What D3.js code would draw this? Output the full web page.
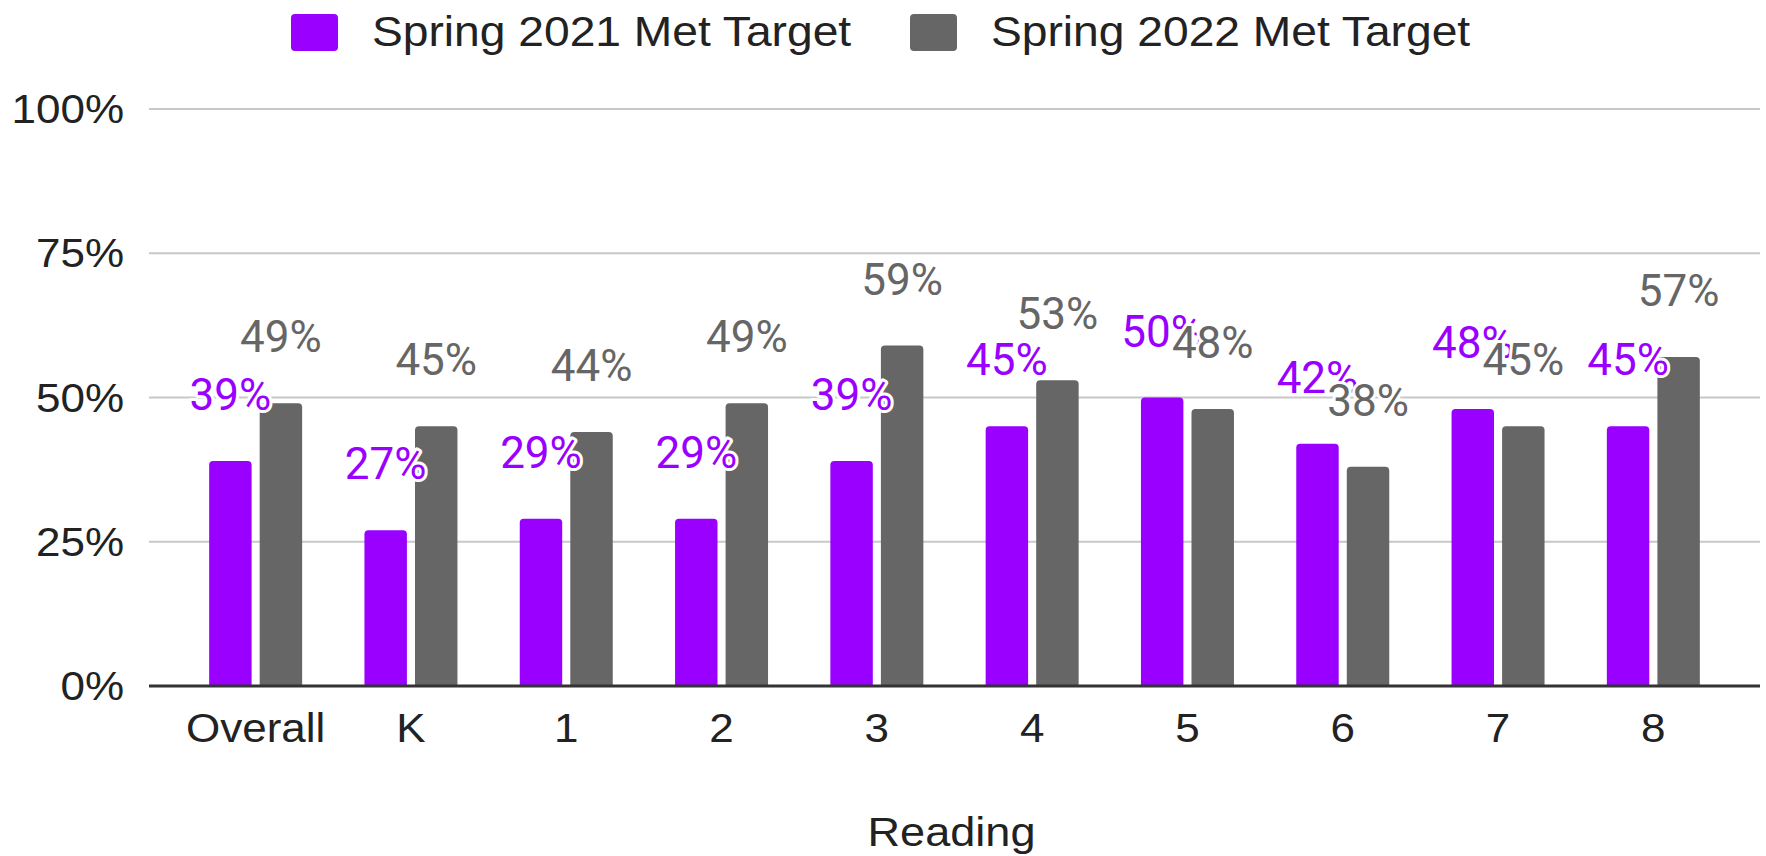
<!DOCTYPE html>
<html>
<head>
<meta charset="utf-8">
<script src="https://cdn.jsdelivr.net/npm/d3@7/dist/d3.min.js"></script>
<style>
  html, body { margin: 0; padding: 0; background: #fff; }
  svg { display: block; }
</style>
</head>
<body>
<script>
const categories = ["Overall", "K", "1", "2", "3", "4", "5", "6", "7", "8"];
const spring2021 = [39, 27, 29, 29, 39, 45, 50, 42, 48, 45];
const spring2022 = [49, 45, 44, 49, 59, 53, 48, 38, 45, 57];
const seriesNames = ["Spring 2021 Met Target", "Spring 2022 Met Target"];
const seriesColors = ["#9900ff", "#666666"];
const yTicks = [0, 25, 50, 75, 100];
const xTitle = "Reading";

const W = 1766, H = 856;
const svg = d3.select("body").append("svg").attr("width", W).attr("height", H);

const gridX0 = 149, gridX1 = 1760;
const y = d3.scaleLinear().domain([0, 100]).range([686, 109]);
const x0 = d3.scaleBand().domain(categories).range([178, 1731]).paddingInner(0).paddingOuter(0);
const groupW = 93;
const x1 = d3.scaleBand().domain(seriesNames).range([0, groupW]).paddingInner(0.16);

const axisFont = "'Liberation Sans', Arial, sans-serif";
const labelFont = "Roboto, 'Noto Sans', sans-serif";
const sx = 1.1;

function stretchedText(g, tx, ty, txt, size, anchor, color) {
  return g.append("text")
    .attr("transform", `translate(${tx},${ty}) scale(${sx},1)`)
    .attr("text-anchor", anchor)
    .attr("font-family", axisFont)
    .attr("font-size", size)
    .attr("fill", color)
    .text(txt);
}

// gridlines
const grid = svg.append("g");
grid.selectAll("line").data(yTicks.filter(t => t !== 0)).join("line")
  .attr("x1", gridX0).attr("x2", gridX1)
  .attr("y1", d => y(d)).attr("y2", d => y(d))
  .attr("stroke", "#c8c8c8").attr("stroke-width", 2);

// y tick labels
const yl = svg.append("g");
yTicks.forEach(t => stretchedText(yl, 124, y(t) + 14, d3.format(".0%")(t / 100), 40, "end", "#222"));

// bars
function topRounded(xp, yp, w, h, r) {
  r = Math.min(r, h, w / 2);
  return `M${xp},${yp + h}V${yp + r}Q${xp},${yp} ${xp + r},${yp}H${xp + w - r}Q${xp + w},${yp} ${xp + w},${yp + r}V${yp + h}Z`;
}
const seriesData = [spring2021, spring2022];
const barsG = svg.append("g");
seriesData.forEach((vals, si) => {
  barsG.append("g").selectAll("path").data(vals).join("path")
    .attr("d", (v, i) => {
      const bx = x0(categories[i]) + x0.bandwidth() / 2 - groupW / 2 + x1(seriesNames[si]);
      return topRounded(bx, y(v), x1.bandwidth(), y(0) - y(v), 4);
    })
    .attr("fill", seriesColors[si]);
});

// baseline
svg.append("line")
  .attr("x1", gridX0).attr("x2", gridX1)
  .attr("y1", y(0)).attr("y2", y(0))
  .attr("stroke", "#333333").attr("stroke-width", 3);

// data labels
const lblG = svg.append("g");
seriesData.forEach((vals, si) => {
  lblG.append("g").selectAll("text").data(vals).join("text")
    .attr("x", (v, i) => x0(categories[i]) + x0.bandwidth() / 2 - groupW / 2 + x1(seriesNames[si]) + x1.bandwidth() / 2)
    .attr("y", v => y(v) - 51)
    .attr("text-anchor", "middle")
    .attr("font-family", labelFont)
    .attr("font-size", 44)
    .attr("fill", seriesColors[si])
    .attr("stroke", "#ffffff")
    .attr("stroke-width", 6)
    .attr("stroke-linejoin", "round")
    .attr("paint-order", "stroke")
    .text(v => v + "%");
});

// x tick labels
const xl = svg.append("g");
categories.forEach(c => stretchedText(xl, x0(c) + x0.bandwidth() / 2, 742, c, 40, "middle", "#222"));

// x axis title
stretchedText(svg, (gridX0 + gridX1) / 2 - 3, 846, xTitle, 41, "middle", "#222");

// legend
const legendPos = [{ sq: 291, tx: 372 }, { sq: 910, tx: 991 }];
const lg = svg.append("g");
seriesNames.forEach((n, i) => {
  lg.append("rect").attr("x", legendPos[i].sq).attr("y", 14).attr("width", 47).attr("height", 37)
    .attr("rx", 4).attr("fill", seriesColors[i]);
  stretchedText(lg, legendPos[i].tx, 46, n, 42, "start", "#222");
});
</script>
</body>
</html>
